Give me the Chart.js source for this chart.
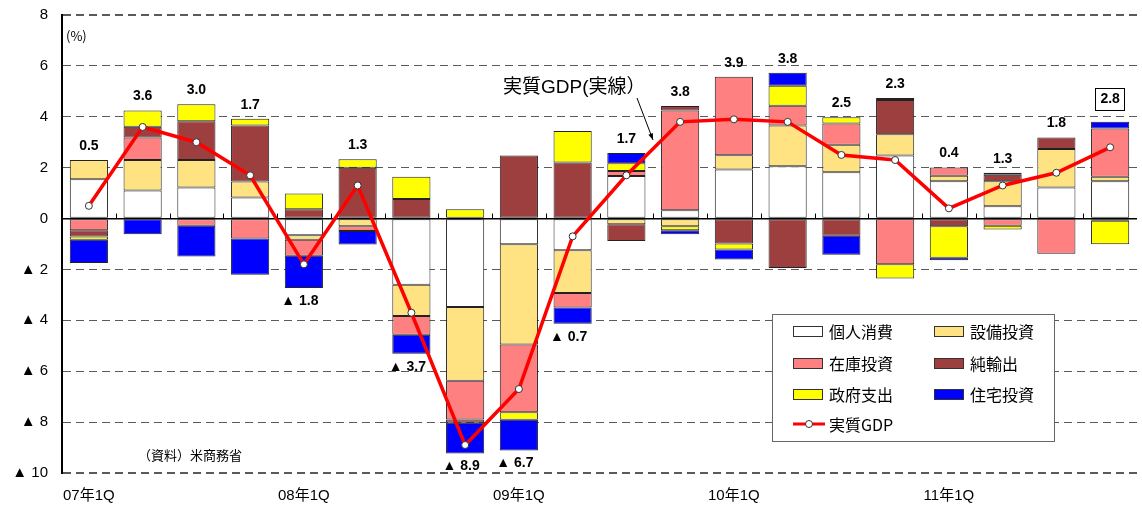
<!DOCTYPE html>
<html lang="ja">
<head>
<meta charset="utf-8">
<title>米国実質GDP成長率と寄与度</title>
<script src="https://cdn.jsdelivr.net/npm/chart.js@4.4.1/dist/chart.umd.min.js"></script>
<style>
  html, body { margin: 0; padding: 0; background: #fff; }
  #wrap { width: 1142px; height: 505px; }
</style>
</head>
<body>
<div id="wrap"><canvas id="gdp-chart" width="1142" height="505"></canvas></div>
<script>
// quarters 2007Q1 - 2011Q4 (前期比年率, %)
const quarters = [
  '07年1Q', '07年2Q', '07年3Q', '07年4Q',
  '08年1Q', '08年2Q', '08年3Q', '08年4Q',
  '09年1Q', '09年2Q', '09年3Q', '09年4Q',
  '10年1Q', '10年2Q', '10年3Q', '10年4Q',
  '11年1Q', '11年2Q', '11年3Q', '11年4Q',
];

const consumption = [1.54, 1.10, 1.22, 0.83, -0.66, 0.00, -2.60, -3.48, -1.01, -1.25, 1.67, 0.33, 1.93, 2.06, 1.82, 2.48, 1.47, 0.48, 1.22, 1.47];
const equipment   = [0.76, 1.20, 1.08, 0.63, -0.17, -0.30, -1.23, -2.89, -3.94, -1.68, -0.22, -0.30, 0.56, 1.60, 1.08, 0.83, 0.21, 0.99, 1.51, 0.17];
const inventory   = [-0.46, 0.89, -0.28, -0.78, -0.63, -0.19, -0.74, -1.53, -2.66, -0.57, 0.20, 3.92, 3.08, 0.77, 0.84, -1.80, 0.33, -0.28, -1.38, 1.90];
const netExports  = [-0.25, 0.42, 1.52, 2.20, 0.37, 2.00, 0.77, -0.13, 2.48, 2.20, -0.66, 0.17, -0.98, -1.94, -0.68, 1.35, -0.30, 0.25, 0.46, -0.09];
const government  = [-0.12, 0.64, 0.67, 0.26, 0.61, 0.33, 0.87, 0.37, -0.30, 1.24, 0.30, -0.16, -0.24, 0.79, 0.24, -0.56, -1.24, -0.15, 0.00, -0.92];
const housing     = [-0.92, -0.62, -1.21, -1.43, -1.27, -0.53, -0.74, -1.20, -1.21, -0.63, 0.41, -0.16, -0.39, 0.51, -0.74, 0.08, -0.10, 0.08, 0.00, 0.26];
const realGdp     = [0.5, 3.6, 3.0, 1.7, -1.8, 1.3, -3.7, -8.9, -6.7, -0.7, 1.7, 3.8, 3.9, 3.8, 2.5, 2.3, 0.4, 1.3, 1.8, 2.8];

const yTicks = [-10, -8, -6, -4, -2, 0, 2, 4, 6, 8];
const boxedIndex = 19; // latest quarter, value framed

const COLORS = {
  consumption: '#FFFFFF',
  equipment: '#FFE382',
  inventory: '#FF8080',
  netExports: '#9E3F3F',
  government: '#FFFF00',
  housing: '#0000FF',
  gdp: '#FF0000',
};

const FONT = "'Liberation Sans', Arial, 'Noto Sans CJK JP', sans-serif";
const JFONT = "'Noto Sans CJK JP', 'Liberation Sans', sans-serif";

const barSeries = [
  { label: '個人消費', data: consumption, color: COLORS.consumption },
  { label: '設備投資', data: equipment, color: COLORS.equipment },
  { label: '在庫投資', data: inventory, color: COLORS.inventory },
  { label: '純輸出', data: netExports, color: COLORS.netExports },
  { label: '政府支出', data: government, color: COLORS.government },
  { label: '住宅投資', data: housing, color: COLORS.housing },
];

function fmtTick(v) {
  return v < 0 ? '▲ ' + (-v) : String(v);
}

// value labels, zero-line ticks, notes and the boxed legend
const decorations = {
  id: 'decorations',
  afterDatasetsDraw(chart) {
    const { ctx, chartArea, scales: { x, y } } = chart;
    const zeroY = y.getPixelForValue(0);
    const step = x.getPixelForValue(1) - x.getPixelForValue(0);

    ctx.save();
    // small ticks on the zero line between quarters
    ctx.strokeStyle = '#000';
    ctx.lineWidth = 1;
    for (let i = 1; i < quarters.length; i++) {
      const px = Math.round(x.getPixelForValue(i) - step / 2) + 0.5;
      ctx.beginPath();
      ctx.moveTo(px, zeroY);
      ctx.lineTo(px, zeroY - 5);
      ctx.stroke();
    }

    // GDP value labels above / below each stack
    ctx.font = 'bold 14px ' + FONT;
    ctx.fillStyle = '#000';
    ctx.textAlign = 'center';
    ctx.textBaseline = 'middle';
    realGdp.forEach((g, i) => {
      let top = 0, bottom = 0;
      barSeries.forEach(s => {
        if (s.data[i] > 0) top += s.data[i];
        else bottom += s.data[i];
      });
      const cx = x.getPixelForValue(i);
      if (g >= 0) {
        const text = g.toFixed(1);
        const off = i === boxedIndex ? 23 : 14;
        const cy = y.getPixelForValue(top) - off;
        ctx.fillText(text, cx, cy);
        if (i === boxedIndex) {
          const w = ctx.measureText(text).width + 10;
          ctx.lineWidth = 1;
          ctx.strokeRect(Math.round(cx - w / 2) + 0.5, Math.round(cy - 11) + 0.5, Math.round(w), 22);
        }
      } else {
        const cy = y.getPixelForValue(bottom) + 13;
        ctx.fillText('▲ ' + (-g).toFixed(1), cx - 4, cy);
      }
    });

    // unit and source
    ctx.textAlign = 'left';
    ctx.font = '13px ' + JFONT;
    ctx.fillText('(%)', chartArea.left + 4, chartArea.top + 21);
    ctx.fillText('（資料）米商務省', chartArea.left + 76, y.getPixelForValue(-9.3));

    // call-out for the GDP line
    ctx.font = '19px ' + FONT;
    ctx.fillText('実質GDP(実線）', 503, y.getPixelForValue(5.15));
    const ax0 = 637, ay0 = 98, ax1 = 653, ay1 = 140;
    ctx.beginPath();
    ctx.moveTo(ax0, ay0);
    ctx.lineTo(ax1, ay1);
    ctx.stroke();
    const ang = Math.atan2(ay1 - ay0, ax1 - ax0);
    ctx.beginPath();
    ctx.moveTo(ax1, ay1);
    ctx.lineTo(ax1 - 7 * Math.cos(ang - 0.35), ay1 - 7 * Math.sin(ang - 0.35));
    ctx.lineTo(ax1 - 7 * Math.cos(ang + 0.35), ay1 - 7 * Math.sin(ang + 0.35));
    ctx.closePath();
    ctx.fill();
    ctx.restore();
  },
  afterDraw(chart) {
    const { ctx } = chart;
    const box = { left: 772, top: 314, width: 282, height: 127 };
    ctx.save();
    ctx.fillStyle = '#fff';
    ctx.fillRect(box.left, box.top, box.width, box.height);
    ctx.strokeStyle = '#666';
    ctx.lineWidth = 1;
    ctx.strokeRect(box.left + 0.5, box.top + 0.5, box.width, box.height);

    const colX = [793, 934];
    const rowY = [331, 363, 394, 424];
    ctx.font = '16px ' + JFONT;
    ctx.textBaseline = 'middle';
    ctx.textAlign = 'left';
    barSeries.forEach((s, i) => {
      const sx = colX[i % 2];
      const sy = rowY[Math.floor(i / 2)];
      ctx.fillStyle = s.color;
      ctx.fillRect(sx, sy - 5, 29, 10);
      ctx.strokeStyle = '#333';
      ctx.strokeRect(sx + 0.5, sy - 4.5, 29, 10);
      ctx.fillStyle = '#000';
      ctx.fillText(s.label, sx + 36, sy + 1);
    });
    const ly = rowY[3];
    ctx.strokeStyle = COLORS.gdp;
    ctx.lineWidth = 3;
    ctx.beginPath();
    ctx.moveTo(colX[0], ly);
    ctx.lineTo(colX[0] + 32, ly);
    ctx.stroke();
    ctx.beginPath();
    ctx.arc(colX[0] + 16, ly, 3.5, 0, Math.PI * 2);
    ctx.fillStyle = '#fff';
    ctx.fill();
    ctx.strokeStyle = '#333';
    ctx.lineWidth = 1;
    ctx.stroke();
    ctx.fillStyle = '#000';
    ctx.fillText('実質GDP', colX[0] + 36, ly + 1);
    ctx.restore();
  },
};

const datasets = [
  {
    type: 'line',
    label: '実質GDP',
    data: realGdp,
    stack: 'gdp',
    order: 0,
    borderColor: COLORS.gdp,
    backgroundColor: COLORS.gdp,
    borderWidth: 3.5,
    tension: 0,
    pointRadius: 3.5,
    pointBackgroundColor: '#fff',
    pointBorderColor: '#333',
    pointBorderWidth: 1,
  },
  ...barSeries.map(s => ({
    type: 'bar',
    label: s.label,
    data: s.data,
    stack: 'contrib',
    order: 1,
    backgroundColor: s.color,
    borderColor: '#222',
    borderWidth: 1,
    borderSkipped: false,
    categoryPercentage: 1,
    barPercentage: 0.71,
  })),
];

new Chart(document.getElementById('gdp-chart'), {
  data: { labels: quarters, datasets },
  options: {
    responsive: false,
    animation: false,
    layout: { padding: { top: 15, right: 0, left: 0, bottom: 0 } },
    plugins: {
      legend: { display: false },
      tooltip: { enabled: false },
    },
    scales: {
      x: {
        stacked: true,
        afterFit: s => { s.height = 32; },
        grid: { display: false },
        border: { display: false },
        ticks: {
          autoSkip: false,
          maxRotation: 0,
          padding: 6,
          color: '#000',
          font: { size: 15, family: FONT },
          callback: (v, i) => (quarters[i].endsWith('1Q') ? quarters[i] : ''),
        },
      },
      y: {
        stacked: true,
        min: Math.min(...yTicks),
        max: Math.max(...yTicks),
        afterFit: s => { s.width = 62; },
        afterBuildTicks: s => { s.ticks = yTicks.map(v => ({ value: v })); },
        grid: {
          drawTicks: true,
          tickLength: 14,
          tickColor: 'rgba(0,0,0,0)',
          color: c => (c.tick && c.tick.value === 0 ? '#000' : '#5a5a5a'),
          lineWidth: c => {
            if (!c.tick) return 1;
            if (c.tick.value === 0) return 1.5;
            if (c.tick.value === 8 || c.tick.value === -10) return 2;
            return 1;
          },
        },
        border: {
          display: true,
          color: '#000',
          width: 2,
          dash: c => (c.tick && c.tick.value !== 0 ? [8, 5] : []),
        },
        ticks: {
          padding: 0,
          color: '#000',
          font: { size: 15, family: FONT },
          callback: v => fmtTick(v),
        },
      },
    },
  },
  plugins: [decorations],
});
</script>
</body>
</html>
